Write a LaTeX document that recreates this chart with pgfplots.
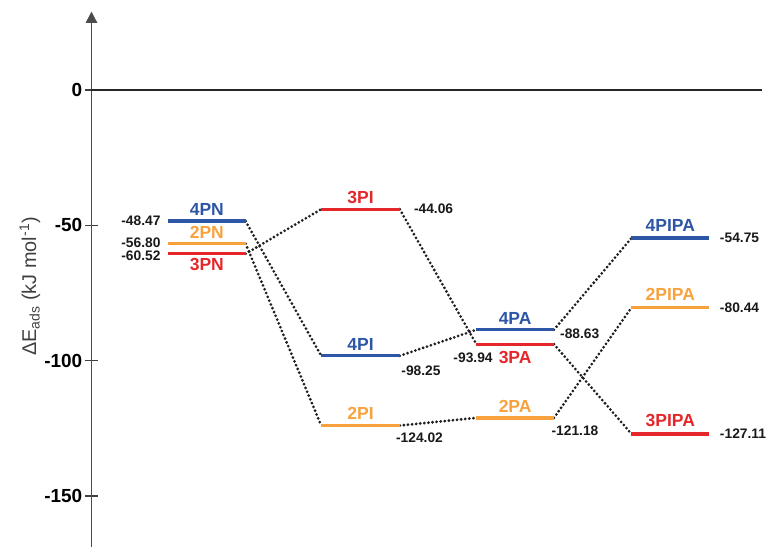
\documentclass[border=0pt]{standalone}
\usepackage{fontspec}
\setmainfont{Liberation Sans}
\usepackage{pgfplots}
\pgfplotsset{compat=1.18}
\usetikzlibrary{arrows.meta}

\definecolor{lvblue}{HTML}{2E56A6}
\definecolor{lvorange}{HTML}{F7A23D}
\definecolor{lvred}{HTML}{E5262B}

\tikzset{
  nm/.style={font=\fontsize{13.2}{15}\bfseries\selectfont, inner sep=0pt},
  val/.style={font=\fontsize{10.4}{12}\bfseries\selectfont, inner sep=0pt, text=black!90},
}
\pgfplotsset{
  lev/.style={line width=2.5pt, no marks},
  con/.style={line width=2.3pt, dash pattern=on 0pt off 3.1pt, line cap=round, draw=black!88, no marks},
}

\begin{document}
\begin{tikzpicture}
\begin{axis}[
  scale only axis, width=505.5pt, height=403.8pt,
  xmin=92, xmax=766, ymin=-168.9, ymax=29,
  clip=false,
  axis x line=none,
  axis y line=left,
  y axis line style={draw=black!70, line width=1.2pt, -{Triangle[length=8.5pt,width=8.5pt]}},
  ytick={-150,-100,-50,0},
  yticklabels={-150,-100,-50,0},
  tick align=center,
  major tick length=9.5pt,
  ytick style={draw=black!75, line width=1.1pt},
  yticklabel style={font=\fontsize{14.3}{16}\bfseries\selectfont, inner sep=0pt, xshift=-2pt},
]
% page extent
\path (axis cs:0,33.27) (axis cs:766,-168.9);

% zero reference
\addplot[no marks, line width=1.7pt, draw=black!85] coordinates {(92,0) (766,0)};

% connections between the steps
\addplot[con] coordinates {(247,-48.47) (323,-98.25)};
\addplot[con] coordinates {(247,-56.80) (323,-124.02)};
\addplot[con] coordinates {(247,-60.52) (323,-44.06)};
\addplot[con] coordinates {(402,-44.06) (479,-93.94)};
\addplot[con] coordinates {(402,-98.25) (479,-88.63)};
\addplot[con] coordinates {(402,-124.02) (479,-121.18)};
\addplot[con] coordinates {(557,-88.63) (635,-54.75)};
\addplot[con] coordinates {(557,-93.94) (635,-127.11)};
\addplot[con] coordinates {(557,-121.18) (635,-80.44)};

% step 1: PN
\addplot[lev, lvblue] coordinates {(169,-48.47) (247,-48.47)}
  node[pos=0.5, above=3pt, nm, text=lvblue] {4PN}
  node[pos=0, left=4.5pt, val] {-48.47};
\addplot[lev, lvorange] coordinates {(169,-56.80) (247,-56.80)}
  node[pos=0.5, above=3pt, nm, text=lvorange] {2PN}
  node[pos=0, left=4.5pt, yshift=0.6pt, val] {-56.80};
\addplot[lev, lvred] coordinates {(169,-60.52) (247,-60.52)}
  node[pos=0.5, below=2.5pt, nm, text=lvred] {3PN}
  node[pos=0, left=4.5pt, yshift=-1.6pt, val] {-60.52};

% step 2: PI
\addplot[lev, lvred] coordinates {(323,-44.06) (402,-44.06)}
  node[pos=0.5, above=3pt, nm, text=lvred] {3PI}
  node[pos=1, right=9.5pt, val] {-44.06};
\addplot[lev, lvblue] coordinates {(323,-98.25) (402,-98.25)}
  node[pos=0.5, above=3pt, nm, text=lvblue] {4PI}
  node[pos=1, anchor=north west, yshift=-6pt, val] {-98.25};
\addplot[lev, lvorange] coordinates {(323,-124.02) (402,-124.02)}
  node[pos=0.5, above=3pt, nm, text=lvorange] {2PI}
  node[pos=1, anchor=north west, xshift=-4pt, yshift=-4.5pt, val] {-124.02};

% step 3: PA
\addplot[lev, lvblue] coordinates {(479,-88.63) (557,-88.63)}
  node[pos=0.5, above=3pt, nm, text=lvblue] {4PA}
  node[pos=1, anchor=west, xshift=3.5pt, yshift=-3pt, val] {-88.63};
\addplot[lev, lvred] coordinates {(479,-93.94) (557,-93.94)}
  node[pos=0.5, below=4pt, nm, text=lvred] {3PA}
  node[pos=0, anchor=north east, xshift=13.5pt, yshift=-5pt, val] {-93.94};
\addplot[lev, lvorange] coordinates {(479,-121.18) (557,-121.18)}
  node[pos=0.5, above=3pt, nm, text=lvorange] {2PA}
  node[pos=1, anchor=north west, xshift=-3pt, yshift=-5pt, val] {-121.18};

% step 4: PIPA
\addplot[lev, lvblue] coordinates {(635,-54.75) (713,-54.75)}
  node[pos=0.5, above=4pt, nm, text=lvblue] {4PIPA}
  node[pos=1, right=7pt, val] {-54.75};
\addplot[lev, lvorange] coordinates {(635,-80.44) (713,-80.44)}
  node[pos=0.5, above=4pt, nm, text=lvorange] {2PIPA}
  node[pos=1, right=7pt, val] {-80.44};
\addplot[lev, lvred] coordinates {(635,-127.11) (713,-127.11)}
  node[pos=0.5, above=4pt, nm, text=lvred] {3PIPA}
  node[pos=1, right=7pt, val] {-127.11};

% axis title
\node[rotate=90, text=black!75, font=\fontsize{15}{17}\selectfont]
  at (axis cs:30,-72.6) {ΔE\textsubscript{ads} (kJ mol\textsuperscript{-1})};
\end{axis}
\end{tikzpicture}
\end{document}
